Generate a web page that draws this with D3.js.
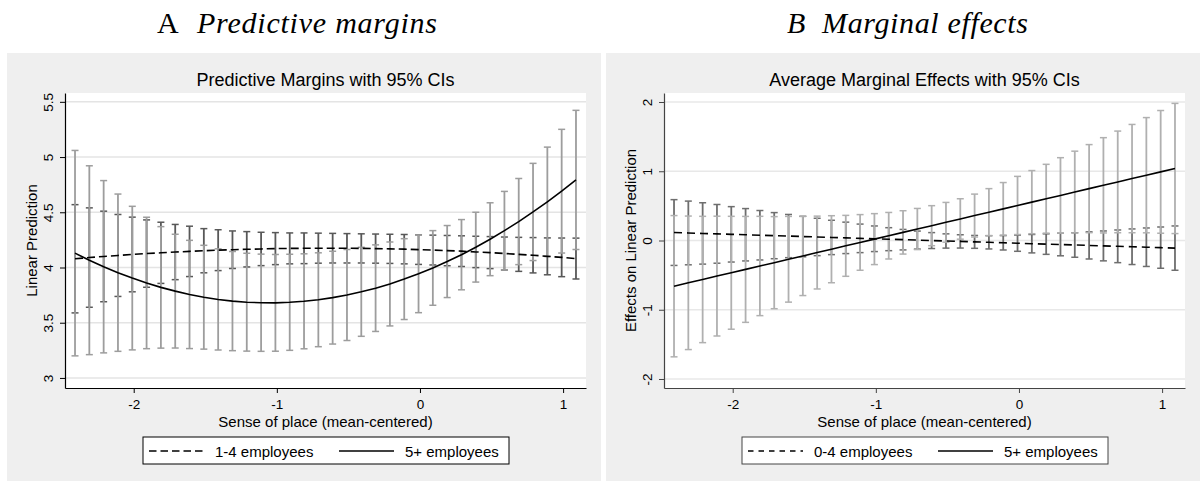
<!DOCTYPE html>
<html>
<head>
<meta charset="utf-8">
<script src="https://cdn.jsdelivr.net/npm/d3@7"></script>
<style>
body{margin:0;background:#fff;}
svg text{font-family:"Liberation Sans",Arial,sans-serif;fill:#000;}
.head{font-family:"Liberation Serif","Times New Roman",serif;font-size:30px;}
</style>
</head>
<body>
<svg id="chart" width="1200" height="481"></svg>
<script>
// sense of place (mean-centered) where margins were evaluated
var placeX = [-2.41,-2.31,-2.21,-2.11,-2.01,-1.91,-1.81,-1.71,-1.61,-1.51,-1.41,-1.31,-1.21,-1.11,-1.01,-0.91,-0.81,-0.71,
              -0.61,-0.51,-0.41,-0.31,-0.21,-0.11,-0.01,0.09,0.19,0.29,0.39,0.49,0.59,0.69,0.79,0.89,0.99,1.09];

// panel A: predictive margins (estimate, 95% CI half width)
var marginsFew = [4.079,4.09,4.1,4.109,4.118,4.126,4.133,4.14,4.146,4.152,4.157,4.161,4.165,4.168,4.171,4.173,4.174,4.175,
                  4.175,4.174,4.173,4.171,4.169,4.166,4.162,4.158,4.153,4.148,4.141,4.135,4.127,4.119,4.111,4.101,4.092,4.081];
var marginsFewCI = [0.49,0.45,0.41,0.371,0.338,0.305,0.277,0.25,0.228,0.2,0.185,0.17,0.16,0.151,0.145,0.14,0.139,0.136,
                    0.134,0.133,0.132,0.132,0.132,0.133,0.134,0.135,0.137,0.139,0.142,0.145,0.149,0.154,0.16,0.167,0.175,0.185];
var marginsMany = [4.13,4.066,4.007,3.953,3.904,3.86,3.82,3.786,3.756,3.731,3.711,3.696,3.686,3.681,3.68,3.685,3.694,3.708,
                   3.727,3.751,3.78,3.813,3.851,3.895,3.943,3.996,4.054,4.116,4.184,4.256,4.334,4.416,4.503,4.595,4.691,4.793];
var marginsManyCI = [0.93,0.855,0.78,0.712,0.65,0.595,0.55,0.515,0.49,0.47,0.458,0.449,0.443,0.44,0.438,0.435,0.43,0.425,
                     0.42,0.412,0.403,0.392,0.38,0.366,0.352,0.338,0.326,0.318,0.316,0.33,0.355,0.39,0.44,0.495,0.56,0.63];

// panel B: average marginal effects (estimate, 95% CI half width)
var effectsFew = [0.115,0.109,0.102,0.096,0.089,0.083,0.076,0.07,0.064,0.057,0.051,0.044,0.038,0.031,0.025,0.019,0.012,0.006,
                  -0.001,-0.007,-0.013,-0.02,-0.026,-0.033,-0.039,-0.046,-0.052,-0.058,-0.065,-0.071,-0.078,-0.084,-0.09,-0.097,-0.103,-0.11];
var effectsFewCI = [0.475,0.46,0.443,0.424,0.4,0.378,0.357,0.333,0.312,0.292,0.27,0.248,0.227,0.206,0.185,0.166,0.148,0.13,
                    0.115,0.103,0.096,0.093,0.096,0.104,0.117,0.133,0.148,0.163,0.177,0.196,0.216,0.236,0.257,0.278,0.298,0.32];
var effectsMany = [-0.66,-0.611,-0.563,-0.514,-0.466,-0.417,-0.368,-0.32,-0.271,-0.223,-0.174,-0.126,-0.077,-0.028,0.02,0.069,0.117,0.166,
                   0.214,0.263,0.311,0.36,0.409,0.457,0.506,0.554,0.603,0.651,0.7,0.749,0.797,0.846,0.894,0.943,0.991,1.04];
var effectsManyCI = [1.02,0.964,0.912,0.865,0.815,0.765,0.717,0.665,0.619,0.572,0.526,0.484,0.44,0.402,0.368,0.336,0.313,0.297,
                     0.289,0.287,0.292,0.31,0.34,0.38,0.42,0.456,0.497,0.545,0.59,0.636,0.688,0.734,0.782,0.832,0.886,0.94];

var xTicks = [-2,-1,0,1];
var yTicksA = [3,3.5,4,4.5,5,5.5];
var yTicksB = [-2,-1,0,1,2];
var legendA = ["1-4 employees","5+ employees"];
var legendB = ["0-4 employees","5+ employees"];

var svg = d3.select("#chart");

var drawPanel = function(p)
{
    var g = svg.append("g").attr("transform","translate("+p.ox+",0)");
    var plot = {left:58,right:579,top:93,bottom:388};

    g.append("rect").attr("x",0).attr("y",53).attr("width",594).attr("height",428).attr("fill","#efefef");
    g.append("rect").attr("x",plot.left).attr("y",plot.top)
        .attr("width",plot.right-plot.left).attr("height",plot.bottom-plot.top).attr("fill","#fff");

    var xScale = d3.scaleLinear().domain([-2.48,1.16]).range([plot.left,plot.right]);
    var yScale = d3.scaleLinear().domain(p.yDomain).range([plot.bottom,plot.top]);

    // grid
    g.append("g").selectAll("line").data(p.yTicks).enter().append("line")
        .attr("x1",plot.left).attr("x2",plot.right)
        .attr("y1",function(d){return yScale(d);}).attr("y2",function(d){return yScale(d);})
        .attr("stroke",p.gridColor).attr("stroke-width",1.5);

    // error bars, dark series first then light one on top
    p.series.forEach(function(s){
        var bars = g.append("g").selectAll("g").data(placeX).enter().append("g")
            .attr("stroke",s.barColor);
        bars.append("line")
            .attr("x1",function(d){return xScale(d);}).attr("x2",function(d){return xScale(d);})
            .attr("y1",function(d,i){return yScale(s.est[i]-s.ci[i]);})
            .attr("y2",function(d,i){return yScale(s.est[i]+s.ci[i]);})
            .attr("stroke-width",1.8);
        [-1,1].forEach(function(sign){
            bars.append("line")
                .attr("x1",function(d){return xScale(d)-3.5;}).attr("x2",function(d){return xScale(d)+3.5;})
                .attr("y1",function(d,i){return yScale(s.est[i]+sign*s.ci[i]);})
                .attr("y2",function(d,i){return yScale(s.est[i]+sign*s.ci[i]);})
                .attr("stroke-width",1.5);
        });
    });

    // estimate lines
    p.series.forEach(function(s){
        var lineGen = d3.line()
            .x(function(d){return xScale(d);})
            .y(function(d,i){return yScale(s.est[i]);});
        g.append("path").datum(placeX)
            .attr("d",lineGen).attr("fill","none")
            .attr("stroke","#000").attr("stroke-width",1.6)
            .attr("stroke-dasharray",s.dash);
    });

    // axes
    var yAxis = d3.axisLeft(yScale).tickValues(p.yTicks).tickSize(5).tickSizeOuter(0)
        .tickFormat(function(d){return String(d);});
    var ya = g.append("g").attr("transform","translate("+plot.left+",0)").call(yAxis);
    ya.selectAll("text").attr("x",0).attr("dy",null).attr("font-size",13.5)
        .attr("text-anchor","middle").attr("transform","translate(-12,0) rotate(-90)");

    var xAxis = d3.axisBottom(xScale).tickValues(xTicks).tickSize(5).tickSizeOuter(0)
        .tickFormat(function(d){return String(d);});
    var xa = g.append("g").attr("transform","translate(0,"+plot.bottom+")").call(xAxis);
    xa.selectAll("text").attr("y",21).attr("dy",null).attr("font-size",13.5);

    [ya,xa].forEach(function(a){
        a.select(".domain").attr("stroke",p.axisColor).attr("stroke-width",1.2);
        a.selectAll(".tick line").attr("stroke",p.axisColor);
    });

    // labels
    var mid = (plot.left+plot.right)/2;
    g.append("text").text(p.title).attr("x",mid).attr("y",86)
        .attr("text-anchor","middle").attr("font-size",18);
    g.append("text").text("Sense of place (mean-centered)").attr("x",mid).attr("y",427)
        .attr("text-anchor","middle").attr("font-size",15);
    g.append("text").text(p.yTitle).attr("text-anchor","middle").attr("font-size",15)
        .attr("transform","translate(30,"+((plot.top+plot.bottom)/2)+") rotate(-90)");

    // legend
    var leg = g.append("g");
    leg.append("rect").attr("x",136).attr("y",437).attr("width",366).attr("height",27)
        .attr("fill","#fff").attr("stroke",p.axisColor).attr("stroke-width",1);
    var legX = [142,332];
    p.legend.forEach(function(label,i){
        leg.append("line").attr("x1",legX[i]).attr("x2",legX[i]+55).attr("y1",451).attr("y2",451)
            .attr("stroke","#000").attr("stroke-width",1.6).attr("stroke-dasharray",p.series[i].legendDash);
        leg.append("text").text(label).attr("x",legX[i]+66).attr("y",457).attr("font-size",15);
    });
}

drawPanel({
    ox:7, yDomain:[2.909,5.58], yTicks:yTicksA,
    title:"Predictive Margins with 95% CIs", yTitle:"Linear Prediction",
    axisColor:"#000", gridColor:"#e4e4e4", legend:legendA,
    series:[
        {est:marginsFew, ci:marginsFewCI, barColor:"#585858", dash:"8,4", legendDash:"7.5,4"},
        {est:marginsMany, ci:marginsManyCI, barColor:"#9d9d9d", dash:null, legendDash:null}
    ]
});

drawPanel({
    ox:606, yDomain:[-2.13,2.13], yTicks:yTicksB,
    title:"Average Marginal Effects with 95% CIs", yTitle:"Effects on Linear Prediction",
    axisColor:"#444", gridColor:"#e8e8e8", legend:legendB,
    series:[
        {est:effectsFew, ci:effectsFewCI, barColor:"#6e6e6e", dash:"8,5", legendDash:"5.5,5"},
        {est:effectsMany, ci:effectsManyCI, barColor:"#b0b0b0", dash:null, legendDash:null}
    ]
});

// panel headings
var heads = [
    {x:157, letter:"A", letterStyle:"normal", x2:197, text:"Predictive margins", len:240},
    {x:787, letter:"B", letterStyle:"italic", x2:822, text:"Marginal effects", len:206}
];
heads.forEach(function(h){
    svg.append("text").attr("class","head").attr("x",h.x).attr("y",33)
        .attr("font-style",h.letterStyle).text(h.letter);
    svg.append("text").attr("class","head").attr("x",h.x2).attr("y",33)
        .attr("font-style","italic").attr("textLength",h.len).attr("lengthAdjust","spacing").text(h.text);
});
</script>
</body>
</html>
